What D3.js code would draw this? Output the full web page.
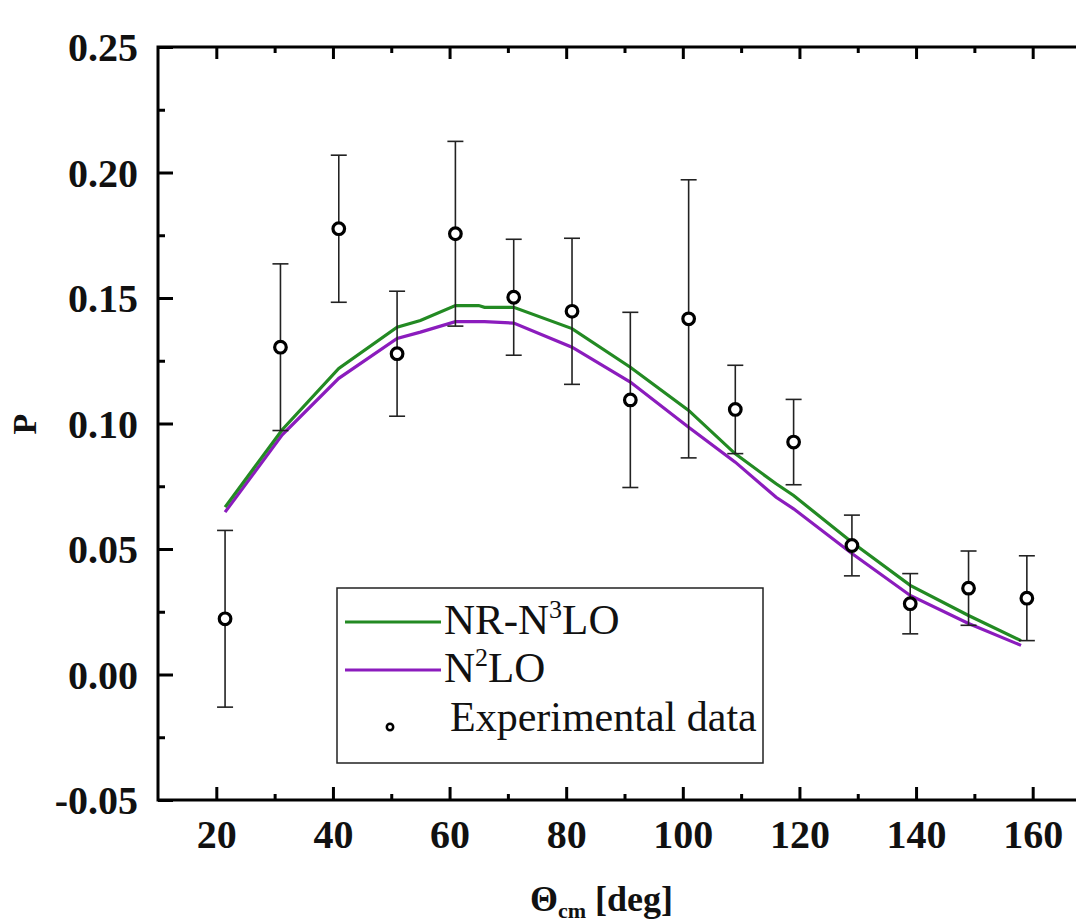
<!DOCTYPE html>
<html>
<head>
<meta charset="utf-8">
<script src="https://cdn.jsdelivr.net/npm/d3@7/dist/d3.min.js"></script>
<style>
  html, body { margin: 0; padding: 0; background: #fff; }
  svg { display: block; }
  text { font-family: "Liberation Serif", "Times New Roman", serif; fill: #111; }
</style>
</head>
<body>
<svg id="chart" width="1076" height="924"></svg>
<script>
// Experimental analyzing power P versus centre-of-mass angle
const expAngle = [21.5, 31, 41, 51, 61, 71, 81, 91, 101, 109, 119, 129, 139, 149, 159];
const expP     = [0.0222, 0.1304, 0.1776, 0.1278, 0.1756, 0.1503, 0.1447, 0.1094, 0.1417, 0.1056, 0.0926, 0.0514, 0.0282, 0.0344, 0.0304];
const expErr   = [0.0352, 0.0332, 0.0293, 0.0249, 0.0368, 0.0231, 0.0291, 0.0349, 0.0554, 0.0176, 0.0170, 0.0121, 0.0120, 0.0148, 0.0169];

// Theory curves
const nr3Angle = [21.5, 31.3, 41, 51, 55, 61, 65, 66, 71, 81, 91, 101, 109, 116, 119, 129, 139, 149, 158];
const nr3P     = [0.0667, 0.0975, 0.1219, 0.1384, 0.1410, 0.1470, 0.1470, 0.1463, 0.1463, 0.1378, 0.1224, 0.1052, 0.0879, 0.0760, 0.0713, 0.0527, 0.0355, 0.0235, 0.0135];
const n2Angle  = [21.5, 31.3, 41, 51, 55, 61, 66, 71, 81, 91, 101, 109, 116, 119, 129, 139, 149, 158];
const n2P      = [0.0647, 0.0955, 0.1180, 0.1339, 0.1364, 0.1406, 0.1406, 0.1400, 0.1304, 0.1165, 0.0985, 0.0846, 0.0706, 0.0660, 0.0482, 0.0315, 0.0203, 0.0116];

// Axis ticks
const xMajor = [20, 40, 60, 80, 100, 120, 140, 160];
const xMinor = [30, 50, 70, 90, 110, 130, 150];
const yMajor = [-0.05, 0.00, 0.05, 0.10, 0.15, 0.20, 0.25];
const yMinor = [-0.025, 0.025, 0.075, 0.125, 0.175, 0.225];

const legendNames = ["NR-N", "N"];
const greenCol = "#238a23";
const purpleCol = "#8b1cbd";

const svg = d3.select("#chart");
const L = 158, R = 1091, T = 47, B = 800;

const x = d3.scaleLinear().domain([10, 170]).range([L, R]);
const y = d3.scaleLinear().domain([-0.05, 0.25]).range([B, T]);

// Minor / major ticks on all four sides, pointing inward
function ticks(axisFn, pos, vals, size, fmt, pad) {
  const a = axisFn.tickValues(vals).tickSizeInner(size).tickSizeOuter(0)
    .tickPadding(pad || 0).tickFormat(fmt || "");
  const g = svg.append("g").attr("transform", pos).call(a);
  g.select(".domain").remove();
  g.selectAll(".tick line").attr("stroke", "#000").attr("stroke-width", 3);
  return g;
}
ticks(d3.axisLeft(y), `translate(${L},0)`, yMinor, -7);
ticks(d3.axisRight(y), `translate(${R},0)`, yMinor, -7);
ticks(d3.axisBottom(x), `translate(0,${B})`, xMinor, -6);
ticks(d3.axisTop(x), `translate(0,${T})`, xMinor, -6);
ticks(d3.axisRight(y), `translate(${R},0)`, yMajor, -15);
ticks(d3.axisTop(x), `translate(0,${T})`, xMajor, -12);

const yl = ticks(d3.axisLeft(y), `translate(${L},0)`, yMajor, -15,
  d => d === 0 ? "0.00" : (d < 0 ? "-" + d3.format(".2f")(-d) : d3.format(".2f")(d)), 20);
yl.selectAll(".tick text").attr("font-size", 40).attr("font-weight", "bold")
  .attr("fill", "#111").attr("dy", "0.34em")
  .style("font-family", "'Liberation Serif', 'Times New Roman', serif");

const xl = ticks(d3.axisBottom(x), `translate(0,${B})`, xMajor, -13, d3.format("d"), 20);
xl.selectAll(".tick text").attr("font-size", 40).attr("font-weight", "bold")
  .attr("fill", "#111")
  .style("font-family", "'Liberation Serif', 'Times New Roman', serif");

// Frame
svg.append("rect").attr("x", L).attr("y", T).attr("width", R - L).attr("height", B - T)
  .attr("fill", "none").attr("stroke", "#000").attr("stroke-width", 3);

// Theory curves
const line = d3.line().x(d => x(d[0])).y(d => y(d[1]));
svg.append("path").datum(d3.zip(n2Angle, n2P)).attr("d", line)
  .attr("fill", "none").attr("stroke", purpleCol).attr("stroke-width", 3.2);
svg.append("path").datum(d3.zip(nr3Angle, nr3P)).attr("d", line)
  .attr("fill", "none").attr("stroke", greenCol).attr("stroke-width", 3.2);

// Experimental data with error bars
const pts = expAngle.map((a, i) => ({ a, p: expP[i], e: expErr[i] }));
const eb = svg.append("g").attr("stroke", "#222").attr("stroke-width", 1.6);
pts.forEach(d => {
  eb.append("line").attr("x1", x(d.a)).attr("x2", x(d.a))
    .attr("y1", y(d.p + d.e)).attr("y2", y(d.p - d.e));
  [d.p + d.e, d.p - d.e].forEach(v => {
    eb.append("line").attr("x1", x(d.a) - 8).attr("x2", x(d.a) + 8)
      .attr("y1", y(v)).attr("y2", y(v));
  });
});
svg.append("g").selectAll("circle").data(pts).join("circle")
  .attr("cx", d => x(d.a)).attr("cy", d => y(d.p)).attr("r", 5.8)
  .attr("fill", "#fff").attr("stroke", "#000").attr("stroke-width", 3.2);

// Legend
const lg = svg.append("g");
lg.append("rect").attr("x", 337).attr("y", 588).attr("width", 426).attr("height", 175)
  .attr("fill", "#fff").attr("stroke", "#222").attr("stroke-width", 1.5);
lg.append("line").attr("x1", 345).attr("x2", 441).attr("y1", 622).attr("y2", 622)
  .attr("stroke", greenCol).attr("stroke-width", 3);
lg.append("line").attr("x1", 345).attr("x2", 441).attr("y1", 670).attr("y2", 670)
  .attr("stroke", purpleCol).attr("stroke-width", 3);
lg.append("circle").attr("cx", 390).attr("cy", 727).attr("r", 3.2)
  .attr("fill", "#fff").attr("stroke", "#000").attr("stroke-width", 2.5);

const t1 = lg.append("text").attr("x", 444).attr("y", 634).attr("font-size", 43);
t1.append("tspan").text(legendNames[0]);
t1.append("tspan").attr("font-size", 26).attr("dy", -16).text("3");
t1.append("tspan").attr("dy", 16).text("LO");

const t2 = lg.append("text").attr("x", 444).attr("y", 682).attr("font-size", 43);
t2.append("tspan").text(legendNames[1]);
t2.append("tspan").attr("font-size", 26).attr("dy", -16).text("2");
t2.append("tspan").attr("dy", 16).text("LO");

lg.append("text").attr("x", 450).attr("y", 731).attr("font-size", 42).text("Experimental data");

// Axis titles
svg.append("text").attr("transform", "translate(36,424) rotate(-90)")
  .attr("text-anchor", "middle").attr("font-size", 34).attr("font-weight", "bold").text("P");

const xt = svg.append("text").attr("x", 530).attr("y", 911)
  .attr("font-size", 36).attr("font-weight", "bold");
xt.append("tspan").text("\u0398");
xt.append("tspan").attr("font-size", 22).attr("dy", 7).text("cm");
xt.append("tspan").attr("dy", -7).text(" [deg]");
</script>
</body>
</html>
